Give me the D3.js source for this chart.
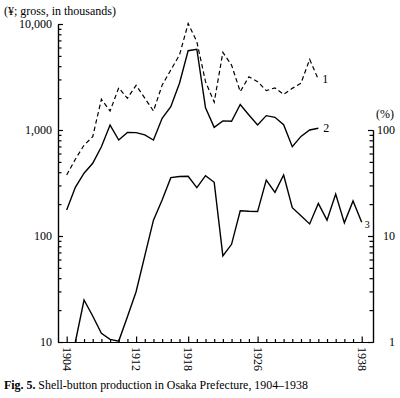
<!DOCTYPE html>
<html>
<head>
<meta charset="utf-8">
<script src="https://cdn.jsdelivr.net/npm/d3@7"></script>
<style>
  body { margin: 0; background: #fff; }
  svg { display: block; font-family: "Liberation Serif", "Times New Roman", serif; }
  .axis path, .axis line { stroke: #000; stroke-width: 1.2; }
  .axis text { font-family: "Liberation Serif", serif; font-size: 12px; fill: #000; }
</style>
</head>
<body>
<svg id="chart" width="400" height="398"></svg>
<script>
// years for series 1 and 2 (1904-1933), series 3 (1905-1938)
var years12 = d3.range(1904, 1934);
var years3 = d3.range(1905, 1939);

// 1: dashed (thousand yen, gross)
var series1 = [376, 530, 720, 865, 1950, 1510, 2500, 1990, 2640, 2000,
    1510, 2650, 3680, 5100, 10100, 6800, 2860, 1830, 5400, 4100,
    2300, 3180, 2860, 2350, 2500, 2170, 2470, 2760, 4640, 3000];
// 2: solid (thousand yen)
var series2 = [176, 288, 391, 485, 695, 1114, 805, 950, 945, 900,
    805, 1290, 1660, 2760, 5600, 5780, 1620, 1060, 1220, 1210,
    1740, 1386, 1114, 1366, 1318, 1120, 695, 870, 1000, 1038];
// 3: solid (%), right axis
var series3 = [1.0, 2.49, 1.76, 1.21, 1.06, 1.02, 1.73, 2.98, 6.5, 14.1,
    21.9, 35.5, 36.4, 36.6, 28.6, 37.1, 32.1, 6.5, 8.35, 17.3,
    17.1, 17.0, 33.7, 25.8, 37.6, 18.5, 15.5, 13.0, 20.3, 14.1,
    24.9, 13.3, 21.4, 13.5];

var yearTicks = [1904, 1912, 1918, 1926, 1938];
var leftTicks = [10, 100, 1000, 10000];
var rightTicks = [1, 10, 100];

var svg = d3.select("#chart");

var x = d3.scaleLinear().domain([1903, 1939.3]).range([58, 373]);
var y = d3.scaleLog().domain([10, 10000]).range([342, 24]);
var yPct = d3.scaleLog().domain([1, 100]).range([342, 130]);

function minors(lo, hi) {
    var out = [];
    for (var d = lo; d < hi; d *= 10) {
        for (var k = 2; k <= 9; k++) out.push(d * k);
    }
    return out;
}

// left axis
svg.append("g")
    .attr("class", "axis")
    .attr("transform", "translate(" + x(1903) + ",0)")
    .call(d3.axisLeft(y).tickValues(minors(10, 10000)).tickSizeInner(-3.5).tickSizeOuter(0).tickFormat(""));
svg.append("g")
    .attr("class", "axis")
    .attr("transform", "translate(" + x(1903) + ",0)")
    .call(d3.axisLeft(y).tickValues(leftTicks).tickSizeInner(-5).tickSizeOuter(0).tickPadding(6)
        .tickFormat(d3.format(",")));

// right axis
svg.append("g")
    .attr("class", "axis")
    .attr("transform", "translate(" + x(1939.3) + ",0)")
    .call(d3.axisRight(yPct).tickValues(minors(1, 100)).tickSizeInner(-3.5).tickSizeOuter(0).tickFormat(""));
var rAx = svg.append("g")
    .attr("class", "axis")
    .attr("transform", "translate(" + x(1939.3) + ",0)")
    .call(d3.axisRight(yPct).tickValues(rightTicks).tickSizeInner(-5).tickSizeOuter(0).tickPadding(22)
        .tickFormat(d3.format("d")));
rAx.selectAll("text").style("text-anchor", "end");

// bottom axis
var xMinor = d3.range(1904, 1939).filter(function(d) { return yearTicks.indexOf(d) < 0; });
svg.append("g")
    .attr("class", "axis")
    .attr("transform", "translate(0," + y(10) + ")")
    .call(d3.axisBottom(x).tickValues(xMinor).tickSizeInner(-3).tickSizeOuter(0).tickFormat(""));
var xAx = svg.append("g")
    .attr("class", "axis")
    .attr("transform", "translate(0," + y(10) + ")")
    .call(d3.axisBottom(x).tickValues(yearTicks).tickSizeInner(-5.5).tickSizeOuter(0).tickFormat(d3.format("d")));
xAx.selectAll("text")
    .attr("transform", "rotate(90)")
    .attr("x", 5)
    .attr("y", 0)
    .attr("dy", ".35em")
    .style("text-anchor", "start");

// lines
var line12 = d3.line()
    .x(function(d, i) { return x(years12[i]); })
    .y(function(d) { return y(d); });
var line3 = d3.line()
    .x(function(d, i) { return x(years3[i]); })
    .y(function(d) { return yPct(d); });

svg.append("path")
    .datum(series1)
    .attr("d", line12)
    .attr("fill", "none")
    .attr("stroke", "#000")
    .attr("stroke-width", 1.2)
    .attr("stroke-dasharray", "4.5,3");

svg.append("path")
    .datum(series2)
    .attr("d", line12)
    .attr("fill", "none")
    .attr("stroke", "#000")
    .attr("stroke-width", 1.4);

svg.append("path")
    .datum(series3)
    .attr("d", line3)
    .attr("fill", "none")
    .attr("stroke", "#000")
    .attr("stroke-width", 1.4);

// series labels
svg.append("text").attr("x", x(1933) + 4).attr("y", y(series1[29]) + 4)
    .style("font-size", "12px").text("1");
svg.append("text").attr("x", x(1933) + 5).attr("y", y(series2[29]) + 4)
    .style("font-size", "12px").text("2");
svg.append("text").attr("x", x(1938) + 3).attr("y", yPct(series3[33]) + 6)
    .style("font-size", "10px").text("3");

// unit labels
svg.append("text").attr("x", 4).attr("y", 15)
    .style("font-size", "12px").text("(\u00A5; gross, in thousands)");
svg.append("text").attr("x", x(1939.3) + 3).attr("y", yPct(100) - 12)
    .style("font-size", "12px").text("(%)");

// caption
var cap = svg.append("text").attr("x", 4).attr("y", 389).style("font-size", "11.9px");
cap.append("tspan").style("font-weight", "bold").text("Fig. 5.");
cap.append("tspan").text(" Shell-button production in Osaka Prefecture, 1904\u20131938");
</script>
</body>
</html>
